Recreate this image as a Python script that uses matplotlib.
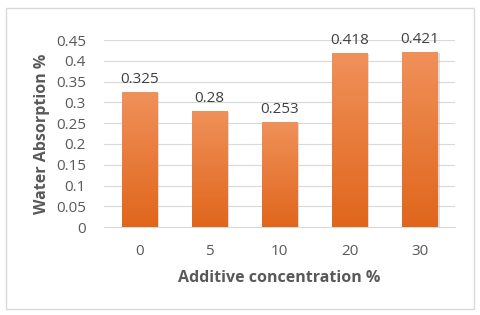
import matplotlib
matplotlib.use('Agg')
import matplotlib.pyplot as plt
import numpy as np
from matplotlib.patches import Rectangle

# data
categories = ['0', '5', '10', '20', '30']
absorption = [0.325, 0.28, 0.253, 0.418, 0.421]
yticks = [0, 0.05, 0.1, 0.15, 0.2, 0.25, 0.3, 0.35, 0.4, 0.45]
ytick_labels = ['0', '0.05', '0.1', '0.15', '0.2', '0.25', '0.3', '0.35', '0.4', '0.45']

plt.rcParams['font.family'] = ['Open Sans', 'DejaVu Sans']
grey = '#595959'

fig = plt.figure(figsize=(4.8, 3.15), dpi=100)
ax = fig.add_axes([0.2167, 0.279, 0.7313, 0.594])

x = np.arange(len(categories))
bars = ax.bar(x, absorption, width=0.5, color='#EB7A2E', zorder=3)

# vertical gradient on the bars (lighter on top)
grad = np.linspace(0, 1, 256).reshape(-1, 1)
cmap = matplotlib.colors.LinearSegmentedColormap.from_list('og', ['#E0661C', '#F0915A'])
for b in bars:
    bx, by = b.get_x(), b.get_y()
    w, h = b.get_width(), b.get_height()
    # soft shadow
    ax.add_patch(Rectangle((bx + 0.03, by), w, h - 0.002, color='#BFBFBF', alpha=0.5, zorder=2, lw=0))
    im = ax.imshow(grad, extent=[bx, bx + w, by, by + h], origin='lower', cmap=cmap,
                   aspect='auto', zorder=4)
    im.set_clip_path(b)

for xi, v in zip(x, absorption):
    ax.text(xi, v + 0.012, f'{v:g}', ha='center', va='bottom', fontsize=11, color='#404040', zorder=5)

ax.set_xlim(-0.5, len(categories) - 0.5)
ax.set_ylim(0, 0.45)
ax.set_xticks(x)
ax.set_xticklabels(categories)
ax.set_yticks(yticks)
ax.set_yticklabels(ytick_labels)
ax.yaxis.grid(True, color='#D9D9D9', lw=0.8, zorder=0)
ax.set_axisbelow(True)
for s in ['top', 'right', 'left']:
    ax.spines[s].set_visible(False)
ax.spines['bottom'].set_color('#D9D9D9')
ax.tick_params(axis='both', length=0, labelsize=11, colors=grey)
ax.tick_params(axis='x', pad=12)
ax.tick_params(axis='y', pad=13)

ax.set_xlabel('Additive concentration %', fontsize=11.5, fontweight='bold', color=grey, labelpad=8)
ax.set_ylabel('Water Absorption %', fontsize=11.5, fontweight='bold', color=grey, labelpad=4)

# chart border
fig.patches.append(Rectangle((0.012, 0.02), 0.976, 0.955, transform=fig.transFigure,
                             fill=False, edgecolor='#D9D9D9', lw=1))

fig.savefig('out.png', dpi=100)
